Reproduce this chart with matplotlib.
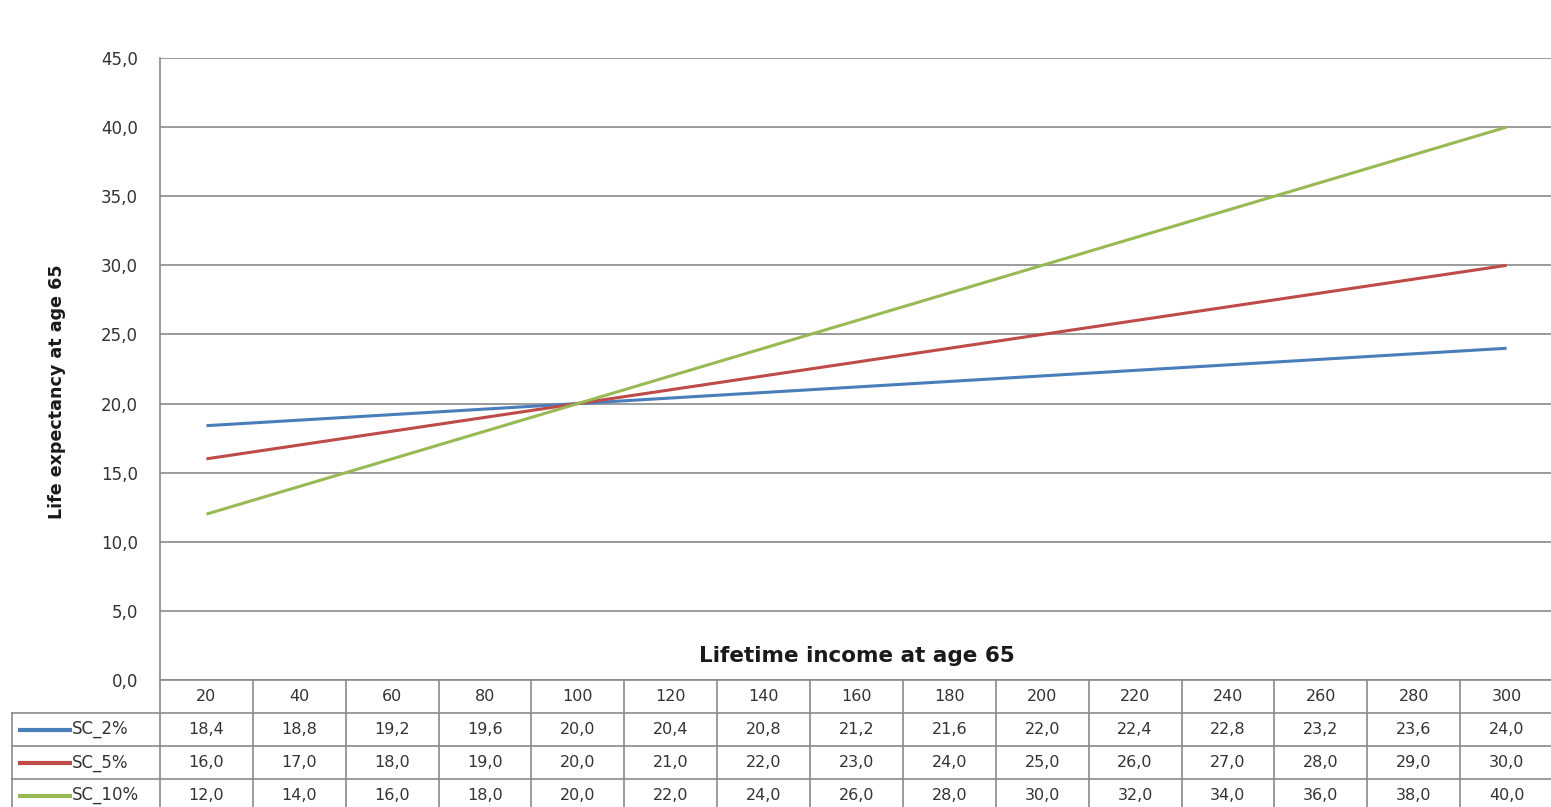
import matplotlib
matplotlib.use("Agg")
import matplotlib.pyplot as plt
from matplotlib.ticker import FuncFormatter, MultipleLocator

# ---- data ----
categories = [20, 40, 60, 80, 100, 120, 140, 160, 180, 200, 220, 240, 260, 280, 300]
series_names = ["SC_2%", "SC_5%", "SC_10%"]
sc_2 = [18.4, 18.8, 19.2, 19.6, 20.0, 20.4, 20.8, 21.2, 21.6, 22.0, 22.4, 22.8, 23.2, 23.6, 24.0]
sc_5 = [16.0, 17.0, 18.0, 19.0, 20.0, 21.0, 22.0, 23.0, 24.0, 25.0, 26.0, 27.0, 28.0, 29.0, 30.0]
sc_10 = [12.0, 14.0, 16.0, 18.0, 20.0, 22.0, 24.0, 26.0, 28.0, 30.0, 32.0, 34.0, 36.0, 38.0, 40.0]
series_values = [sc_2, sc_5, sc_10]
colors = ["#4a7ebb", "#be4b48", "#98b954"]

W, H = 1551, 807
fig = plt.figure(figsize=(W / 100, H / 100), dpi=100)
plt.rcParams['font.family'] = ['DejaVu Sans']

grid_col = "#8a8a8a"
text_col = "#333333"

def fx(px):
    return px / W
def fy(py):
    return 1 - py / H

left_px, right_px, top_px, bot_px = 160, 1553, 58, 680
ax = fig.add_axes([fx(left_px), fy(bot_px), fx(right_px) - fx(left_px), fy(top_px) - fy(bot_px)])
n = len(categories)
xs = list(range(n))
for vals, c in zip(series_values, colors):
    ax.plot(xs, vals, color=c, lw=2.2, solid_capstyle='butt')
ax.set_xlim(-0.5, n - 0.5)
ax.set_ylim(0, 45)
ax.yaxis.set_major_locator(MultipleLocator(5))
ax.yaxis.set_major_formatter(FuncFormatter(lambda v, p: f"{v:.1f}".replace(".", ",")))
ax.grid(axis='y', color=grid_col, lw=1.2)
ax.set_axisbelow(True)
ax.set_xticks([])
ax.tick_params(axis='y', length=0, pad=16, labelsize=12, labelcolor=text_col)
for s in ['top', 'right', 'bottom']:
    ax.spines[s].set_visible(False)
ax.spines['left'].set_color(grid_col)
ax.spines['left'].set_linewidth(1.2)
ax.set_ylabel("Life expectancy at age 65", fontsize=12.6, fontweight='bold', color="#1a1a1a")
ax.yaxis.set_label_coords((66 - left_px) / (right_px - left_px), (bot_px - 392) / (bot_px - top_px))
ax.text(0.5, 0.038, "Lifetime income at age 65", transform=ax.transAxes,
        ha='center', va='center', fontsize=15.5, fontweight='bold', color="#1a1a1a")

# ---- data table ----
tl_px, tr_px = 12, 1553
row_h = 33
t_top = 680
n_rows = 4
t_bot = t_top + row_h * n_rows
tax = fig.add_axes([fx(tl_px), fy(t_bot), fx(tr_px) - fx(tl_px), fy(t_top) - fy(t_bot)])
col_w = (right_px - left_px) / n
x_left_units = -0.5 - (left_px - tl_px) / col_w
tax.set_xlim(x_left_units, n - 0.5)
tax.set_ylim(n_rows, 0)
tax.axis('off')

lkw = dict(color=grid_col, lw=1.2, clip_on=False)
tax.plot([-0.5, n - 0.5], [0, 0], **lkw)
for r in range(1, n_rows + 1):
    tax.plot([x_left_units, n - 0.5], [r, r], **lkw)
tax.plot([x_left_units, x_left_units], [1, n_rows], **lkw)
for i in range(n + 1):
    tax.plot([i - 0.5, i - 0.5], [0, n_rows], **lkw)

fmt = lambda v: f"{v:.1f}".replace(".", ",")
for i, cat in enumerate(categories):
    tax.text(i, 0.5, str(cat), ha='center', va='center', fontsize=11.5, color=text_col)
for r, (name, vals, c) in enumerate(zip(series_names, series_values, colors)):
    y = r + 1.5
    x0 = x_left_units + 6 / col_w
    x1 = x_left_units + 60 / col_w
    tax.plot([x0, x1], [y, y], color=c, lw=3, solid_capstyle='butt')
    tax.text(x1, y, name, ha='left', va='center', fontsize=12, color=text_col)
    for i, v in enumerate(vals):
        tax.text(i, y, fmt(v), ha='center', va='center', fontsize=11.5, color=text_col)

fig.savefig("out.png", dpi=100)
